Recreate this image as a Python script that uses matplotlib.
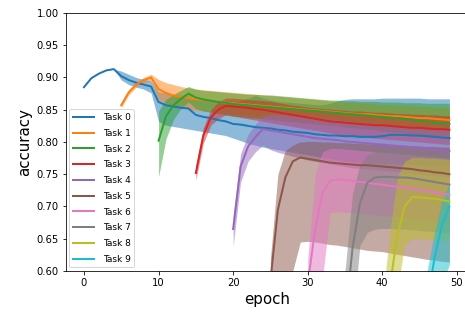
import matplotlib.pyplot as plt

# mean accuracy per task (task i starts at epoch 5*i, runs to epoch 49)
mean_0 = [0.885, 0.899, 0.906, 0.911, 0.913, 0.902, 0.896, 0.892, 0.889, 0.886,
          0.862, 0.857, 0.855, 0.853, 0.852, 0.842, 0.839, 0.837, 0.834, 0.832,
          0.828, 0.827, 0.825, 0.823, 0.822, 0.821, 0.819, 0.818, 0.816, 0.815,
          0.814, 0.812, 0.811, 0.810, 0.810, 0.809, 0.809, 0.808, 0.808, 0.808,
          0.809, 0.811, 0.811, 0.811, 0.810, 0.810, 0.809, 0.808, 0.807, 0.806]
lo_0 = [0.885, 0.899, 0.906, 0.911, 0.913, 0.896, 0.889, 0.885, 0.882, 0.876,
        0.832, 0.826, 0.824, 0.822, 0.820, 0.818, 0.816, 0.814, 0.812, 0.810,
        0.806, 0.802, 0.798, 0.795, 0.792, 0.790, 0.788, 0.786, 0.784, 0.782,
        0.780, 0.778, 0.776, 0.774, 0.772, 0.770, 0.769, 0.768, 0.767, 0.766,
        0.766, 0.766, 0.766, 0.766, 0.765, 0.765, 0.764, 0.764, 0.764, 0.764]
hi_0 = [0.885, 0.899, 0.906, 0.911, 0.913, 0.910, 0.905, 0.900, 0.897, 0.895,
        0.878, 0.876, 0.874, 0.872, 0.871, 0.867, 0.865, 0.864, 0.863, 0.862,
        0.862, 0.864, 0.868, 0.872, 0.868, 0.865, 0.863, 0.862, 0.861, 0.860,
        0.859, 0.858, 0.858, 0.860, 0.864, 0.866, 0.867, 0.867, 0.867, 0.867,
        0.868, 0.868, 0.868, 0.868, 0.868, 0.868, 0.867, 0.867, 0.867, 0.867]

mean_1 = [0.857, 0.877, 0.889, 0.896, 0.900, 0.882, 0.876, 0.872, 0.870, 0.868,
          0.866, 0.865, 0.864, 0.862, 0.861, 0.860, 0.859, 0.858, 0.857, 0.856,
          0.855, 0.854, 0.853, 0.852, 0.851, 0.850, 0.849, 0.848, 0.847, 0.846,
          0.845, 0.844, 0.843, 0.843, 0.842, 0.841, 0.840, 0.840, 0.839, 0.838,
          0.837, 0.837, 0.836, 0.835, 0.834]
lo_1 = [0.853, 0.873, 0.885, 0.892, 0.895, 0.866, 0.860, 0.856, 0.853, 0.851,
        0.849, 0.848, 0.847, 0.845, 0.844, 0.843, 0.842, 0.841, 0.840, 0.839,
        0.838, 0.837, 0.836, 0.835, 0.834, 0.833, 0.832, 0.831, 0.830, 0.829,
        0.828, 0.827, 0.826, 0.825, 0.824, 0.823, 0.822, 0.821, 0.820, 0.819,
        0.818, 0.818, 0.817, 0.816, 0.815]
hi_1 = [0.861, 0.881, 0.893, 0.900, 0.905, 0.897, 0.892, 0.889, 0.886, 0.884,
        0.882, 0.881, 0.880, 0.879, 0.878, 0.877, 0.876, 0.875, 0.874, 0.873,
        0.872, 0.871, 0.870, 0.869, 0.868, 0.867, 0.866, 0.865, 0.864, 0.863,
        0.862, 0.861, 0.861, 0.860, 0.859, 0.858, 0.858, 0.857, 0.857, 0.856,
        0.855, 0.855, 0.854, 0.854, 0.853]

mean_2 = [0.802, 0.840, 0.857, 0.867, 0.875, 0.869, 0.866, 0.864, 0.862, 0.861,
          0.859, 0.858, 0.857, 0.856, 0.855, 0.854, 0.853, 0.852, 0.851, 0.850,
          0.849, 0.848, 0.847, 0.846, 0.845, 0.844, 0.843, 0.842, 0.841, 0.840,
          0.839, 0.838, 0.837, 0.836, 0.835, 0.833, 0.832, 0.830, 0.829, 0.828]
lo_2 = [0.746, 0.805, 0.835, 0.852, 0.862, 0.852, 0.848, 0.846, 0.844, 0.842,
        0.840, 0.839, 0.838, 0.837, 0.836, 0.835, 0.834, 0.832, 0.831, 0.830,
        0.829, 0.828, 0.827, 0.826, 0.825, 0.823, 0.822, 0.821, 0.820, 0.819,
        0.817, 0.816, 0.815, 0.814, 0.812, 0.810, 0.809, 0.807, 0.806, 0.804]
hi_2 = [0.848, 0.866, 0.874, 0.880, 0.886, 0.882, 0.880, 0.879, 0.878, 0.877,
        0.876, 0.875, 0.874, 0.874, 0.873, 0.873, 0.872, 0.871, 0.870, 0.869,
        0.868, 0.867, 0.866, 0.865, 0.865, 0.864, 0.864, 0.863, 0.863, 0.863,
        0.862, 0.862, 0.862, 0.861, 0.861, 0.861, 0.860, 0.860, 0.860, 0.860]

mean_3 = [0.752, 0.810, 0.838, 0.850, 0.856, 0.855, 0.854, 0.853, 0.851, 0.850,
          0.848, 0.846, 0.844, 0.842, 0.840, 0.838, 0.836, 0.834, 0.832, 0.831,
          0.830, 0.829, 0.828, 0.827, 0.826, 0.826, 0.825, 0.824, 0.823, 0.822,
          0.822, 0.821, 0.820, 0.820, 0.819]
lo_3 = [0.741, 0.798, 0.826, 0.836, 0.842, 0.840, 0.838, 0.836, 0.834, 0.832,
        0.830, 0.828, 0.826, 0.824, 0.822, 0.820, 0.818, 0.816, 0.814, 0.812,
        0.810, 0.809, 0.808, 0.807, 0.806, 0.805, 0.804, 0.803, 0.802, 0.801,
        0.800, 0.799, 0.798, 0.797, 0.796]
hi_3 = [0.765, 0.822, 0.850, 0.862, 0.868, 0.868, 0.867, 0.866, 0.865, 0.864,
        0.863, 0.861, 0.859, 0.857, 0.856, 0.854, 0.853, 0.852, 0.851, 0.850,
        0.849, 0.848, 0.848, 0.847, 0.846, 0.846, 0.845, 0.844, 0.844, 0.843,
        0.843, 0.842, 0.842, 0.841, 0.841]

mean_4 = [0.665, 0.762, 0.793, 0.808, 0.820, 0.818, 0.816, 0.814, 0.812, 0.810,
          0.808, 0.806, 0.805, 0.804, 0.803, 0.801, 0.800, 0.799, 0.798, 0.797,
          0.796, 0.795, 0.794, 0.793, 0.792, 0.791, 0.790, 0.789, 0.787, 0.786]
lo_4 = [0.638, 0.738, 0.770, 0.785, 0.795, 0.788, 0.784, 0.781, 0.778, 0.775,
        0.772, 0.770, 0.768, 0.766, 0.764, 0.762, 0.760, 0.759, 0.758, 0.757,
        0.756, 0.755, 0.754, 0.752, 0.751, 0.750, 0.749, 0.748, 0.746, 0.745]
hi_4 = [0.685, 0.782, 0.812, 0.828, 0.840, 0.843, 0.843, 0.842, 0.841, 0.840,
        0.838, 0.837, 0.836, 0.835, 0.834, 0.833, 0.832, 0.831, 0.830, 0.829,
        0.828, 0.827, 0.826, 0.825, 0.824, 0.823, 0.822, 0.821, 0.820, 0.819]

mean_5 = [0.585, 0.695, 0.745, 0.770, 0.776, 0.774, 0.772, 0.770, 0.768, 0.767,
          0.766, 0.765, 0.764, 0.764, 0.763, 0.762, 0.761, 0.760, 0.759, 0.758,
          0.756, 0.755, 0.753, 0.752, 0.750]
lo_5 = [0.400, 0.460, 0.520, 0.600, 0.645, 0.646, 0.645, 0.643, 0.641, 0.640,
        0.638, 0.636, 0.634, 0.632, 0.631, 0.630, 0.628, 0.626, 0.624, 0.622,
        0.620, 0.618, 0.617, 0.615, 0.614]
hi_5 = [0.620, 0.750, 0.787, 0.795, 0.800, 0.801, 0.801, 0.800, 0.800, 0.799,
        0.799, 0.798, 0.798, 0.797, 0.797, 0.796, 0.796, 0.795, 0.795, 0.794,
        0.794, 0.793, 0.793, 0.792, 0.792]

mean_6 = [0.580, 0.665, 0.722, 0.740, 0.742, 0.741, 0.740, 0.738, 0.737, 0.735,
          0.734, 0.732, 0.731, 0.729, 0.728, 0.726, 0.724, 0.722, 0.720, 0.718]
lo_6 = [0.400, 0.500, 0.590, 0.690, 0.692, 0.691, 0.690, 0.689, 0.688, 0.687,
        0.686, 0.685, 0.684, 0.683, 0.682, 0.681, 0.680, 0.679, 0.678, 0.677]
hi_6 = [0.620, 0.750, 0.785, 0.790, 0.790, 0.789, 0.788, 0.787, 0.786, 0.785,
        0.784, 0.783, 0.782, 0.781, 0.780, 0.779, 0.778, 0.777, 0.776, 0.775]

mean_7 = [0.520, 0.635, 0.705, 0.737, 0.745, 0.746, 0.746, 0.745, 0.745, 0.744,
          0.742, 0.740, 0.738, 0.736, 0.734]
lo_7 = [0.400, 0.520, 0.640, 0.660, 0.665, 0.666, 0.666, 0.665, 0.665, 0.664,
        0.663, 0.662, 0.661, 0.660, 0.659]
hi_7 = [0.600, 0.720, 0.765, 0.780, 0.785, 0.786, 0.786, 0.785, 0.785, 0.784,
        0.783, 0.782, 0.781, 0.780, 0.779]

mean_8 = [0.450, 0.575, 0.655, 0.700, 0.715, 0.714, 0.713, 0.712, 0.710, 0.708]
lo_8 = [0.350, 0.450, 0.570, 0.640, 0.650, 0.650, 0.649, 0.648, 0.647, 0.646]
hi_8 = [0.550, 0.660, 0.745, 0.770, 0.776, 0.776, 0.775, 0.775, 0.774, 0.773]

mean_9 = [0.450, 0.550, 0.620, 0.672, 0.700]
lo_9 = [0.350, 0.450, 0.520, 0.580, 0.610]
hi_9 = [0.550, 0.600, 0.660, 0.710, 0.735]

means = [mean_0, mean_1, mean_2, mean_3, mean_4, mean_5, mean_6, mean_7, mean_8, mean_9]
lows = [lo_0, lo_1, lo_2, lo_3, lo_4, lo_5, lo_6, lo_7, lo_8, lo_9]
highs = [hi_0, hi_1, hi_2, hi_3, hi_4, hi_5, hi_6, hi_7, hi_8, hi_9]
n_epochs = 50
epochs_per_task = 5

fig = plt.figure(figsize=(465 / 72, 324 / 72), dpi=72)
ax = fig.add_axes([65.7 / 465, 53 / 324, 402 / 465, 258 / 324])

for i in range(len(means)):
    x = list(range(i * epochs_per_task, n_epochs))
    ax.plot(x, means[i], color=f'C{i}', lw=2, label=f'Task {i}')
    ax.fill_between(x, lows[i], highs[i], color=f'C{i}', alpha=0.5, lw=0)

ax.set_ylim(0.6, 1.0)
ax.set_xlabel('epoch', fontsize=15)
ax.set_ylabel('accuracy', fontsize=15)
ax.legend(loc='lower left', fontsize=9, handlelength=2.4, labelspacing=0.75,
          handletextpad=0.9, borderaxespad=0.4)

fig.savefig('out.png', dpi=72)
